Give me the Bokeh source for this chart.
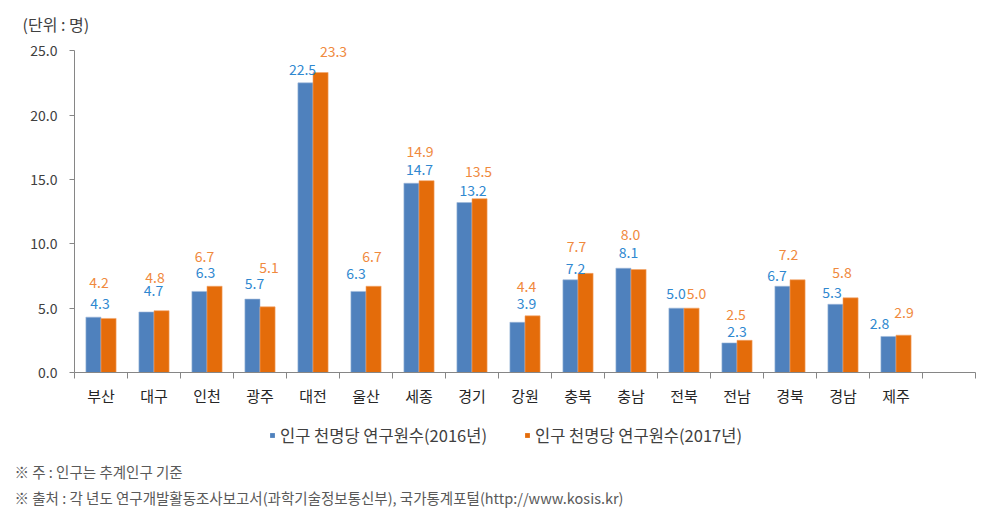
from bokeh.plotting import figure
from bokeh.layouts import column
from bokeh.models import (ColumnDataSource, Range1d, FixedTicker, Legend, LegendItem,
                          Title, NumeralTickFormatter)
from bokeh.transform import dodge
from bokeh.embed import file_html
from bokeh.resources import INLINE
from bokeh.core.properties import value

# ---- data ----
regions = ["부산", "대구", "인천", "광주", "대전", "울산", "세종", "경기",
           "강원", "충북", "충남", "전북", "전남", "경북", "경남", "제주"]
v2016 = [4.3, 4.7, 6.3, 5.7, 22.5, 6.3, 14.7, 13.2, 3.9, 7.2, 8.1, 5.0, 2.3, 6.7, 5.3, 2.8]
v2017 = [4.2, 4.8, 6.7, 5.1, 23.3, 6.7, 14.9, 13.5, 4.4, 7.7, 8.0, 5.0, 2.5, 7.2, 5.8, 2.9]
y_ticks = [0, 5, 10, 15, 20, 25]
series_names = ["인구 천명당 연구원수(2016년)", "인구 천명당 연구원수(2017년)"]
unit_text = "(단위 : 명)"
notes = ["※ 주 : 인구는 추계인구 기준",
         "※ 출처 : 각 년도 연구개발활동조사보고서(과학기술정보통신부), 국가통계포털(http://www.kosis.kr)"]

# ---- label placement (pixel offsets, styling only) ----
blue_dx = [-1, -0.5, -1.5, -5.5, -10.5, -10, 0.5, 1, 1.5, -2.5, -2.5, -8, 0, -13, -11, -16.5]
blue_dy = [13.5, 21, 19, 16, 13, 18, 14, 12, 19, 11.6, 15.5, 15, 11, 11, 12, 13.4]
orange_dx = [-2, 1, -2.5, 9, 20.5, 6, 1, 6.5, 1.5, -1.5, -0.5, 12.5, -1, -1.5, -1, 8]
orange_dy = [36, 33.6, 29.6, 39, 21, 30, 29, 27, 29.4, 26.7, 34.8, 15, 26, 25.6, 25.7, 23]

FONT = "Noto Sans CJK KR"
BLUE = "#4f81bd"
ORANGE = "#e46c0a"
BLUE_EDGE = "#9fb8da"
ORANGE_EDGE = "#f3a66b"
BLUE_TXT = "#2f88d0"
ORANGE_TXT = "#f0893d"
AXIS = "#868686"
TXT = "#404040"

n_slots = len(regions) + 1
centers = [i + 0.5 for i in range(len(regions))]

src = ColumnDataSource(dict(
    x=centers, v16=v2016, v17=v2017,
    l16=[f"{v:.1f}" for v in v2016], l17=[f"{v:.1f}" for v in v2017],
    bdx=blue_dx, bdy=[-d for d in blue_dy],
    odx=orange_dx, ody=[-d for d in orange_dy],
))

# ---------------- main chart ----------------
p = figure(width=988, height=412, frame_width=901, frame_height=336,
           min_border_left=74, min_border_right=13, min_border_top=36, min_border_bottom=40,
           x_range=Range1d(0, n_slots), y_range=Range1d(0, 26.1),
           output_backend="svg", toolbar_location=None)
p.outline_line_color = None
p.grid.visible = False
p.background_fill_color = "white"
p.border_fill_color = "white"

bw = 0.285
p.vbar(x=dodge("x", -bw / 2, range=p.x_range), top="v16", width=bw, source=src,
       fill_color=BLUE, line_color=BLUE_EDGE, line_width=0.6)
p.vbar(x=dodge("x", bw / 2, range=p.x_range), top="v17", width=bw, source=src,
       fill_color=ORANGE, line_color=ORANGE_EDGE, line_width=0.6)

p.text(x="x", y="v16", text="l16", x_offset="bdx", y_offset="bdy", source=src,
       text_font=value(FONT), text_font_size="14px", text_color=BLUE_TXT,
       text_align="center", text_baseline="middle")
p.text(x="x", y="v17", text="l17", x_offset="odx", y_offset="ody", source=src,
       text_font=value(FONT), text_font_size="14px", text_color=ORANGE_TXT,
       text_align="center", text_baseline="middle")

# y axis
ya = p.yaxis[0]
ya.ticker = FixedTicker(ticks=y_ticks)
ya.bounds = (0, 25)
ya.formatter = NumeralTickFormatter(format="0.0")
ya.axis_line_color = AXIS
ya.major_tick_line_color = AXIS
ya.major_tick_out = 5
ya.major_tick_in = 0
ya.minor_tick_line_color = None
ya.major_label_standoff = 12
ya.major_label_text_font = FONT
ya.major_label_text_font_size = "14px"
ya.major_label_text_color = TXT

# x axis
xa = p.xaxis[0]
xa.ticker = FixedTicker(ticks=centers, minor_ticks=list(range(n_slots + 1)))
xa.major_label_overrides = {c: r for c, r in zip(centers, regions)}
xa.axis_line_color = AXIS
xa.major_tick_line_color = None
xa.major_tick_out = 0
xa.major_tick_in = 0
xa.minor_tick_line_color = AXIS
xa.minor_tick_out = 6
xa.minor_tick_in = 0
xa.major_label_standoff = 6
xa.major_label_text_font = FONT
xa.major_label_text_font_size = "15px"
xa.major_label_text_color = "#262626"

# unit label above the plot
p.add_layout(Title(text=unit_text, align="left", offset=-52, standoff=2,
                   text_font=FONT, text_font_size="16px", text_color=TXT,
                   text_font_style="normal"), "above")

# ---------------- legend + notes strip ----------------
p2 = figure(width=988, height=103, frame_width=901, frame_height=43,
            min_border_left=74, min_border_right=13, min_border_top=0, min_border_bottom=60,
            x_range=Range1d(74, 975), y_range=Range1d(455, 412),
            x_axis_type=None, y_axis_type=None,
            output_backend="svg", toolbar_location=None)
p2.outline_line_color = None
p2.grid.visible = False
p2.background_fill_color = "white"
p2.border_fill_color = "white"

# hidden copies of the two series, used only for the legend swatches
k16 = p2.vbar(x="x", top="v16", width=bw, source=src, fill_color=BLUE, line_color=None,
              visible=False)
k17 = p2.vbar(x="x", top="v17", width=bw, source=src, fill_color=ORANGE, line_color=None,
              visible=False)
legend = Legend(items=[LegendItem(label=series_names[0], renderers=[k16]),
                       LegendItem(label=series_names[1], renderers=[k17])],
                orientation="horizontal", location=(195, 8),
                glyph_width=6, glyph_height=6, label_standoff=5, spacing=37,
                padding=0, margin=0, border_line_color=None, background_fill_alpha=0,
                inactive_fill_alpha=0, click_policy="none",
                label_text_font=FONT, label_text_font_size="16.5px", label_text_color=TXT)
p2.add_layout(legend)

for t, so in zip(notes, [7, -1]):
    p2.add_layout(Title(text=t, align="left", offset=-60, standoff=so,
                        text_font=FONT, text_font_size="14.5px", text_color="#595959",
                        text_font_style="normal"), "below")

open("out.html", "w").write(file_html(column(p, p2, spacing=0), INLINE))
